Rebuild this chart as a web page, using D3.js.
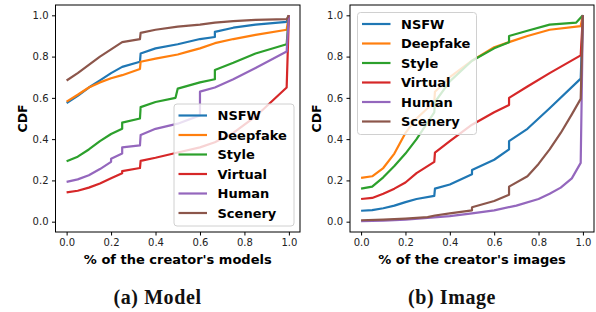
<!DOCTYPE html>
<html>
<head>
<meta charset="utf-8">
<script src="https://cdn.jsdelivr.net/npm/d3@7"></script>
<style>
  body { margin: 0; background: #fff; }
  svg { display: block; }
  .tick text { font-family: "DejaVu Sans", sans-serif; font-size: 10px; fill: #222; }
  .lbl { font-family: "DejaVu Sans", sans-serif; font-weight: bold; fill: #000; }
  .cap { font-family: "Liberation Serif", "DejaVu Serif", serif; font-weight: bold; font-size: 20px; letter-spacing: 0.6px; fill: #111; }
</style>
</head>
<body>
<svg width="596" height="312"></svg>
<script>
var names = ['NSFW', 'Deepfake', 'Style', 'Virtual', 'Human', 'Scenery'];
var colors = ['#1f77b4', '#ff7f0e', '#2ca02c', '#d62728', '#9467bd', '#8c564b'];
var ticks = [0, 0.2, 0.4, 0.6, 0.8, 1.0];

// (a) model share per creator, [x, cdf]
var modelNsfw = [[0,0.575],[0.05,0.61],[0.1,0.65],[0.15,0.685],[0.2,0.72],[0.25,0.75],[0.33,0.775],[0.333,0.815],[0.4,0.84],[0.5,0.86],[0.6,0.885],[0.667,0.895],[0.667,0.92],[0.75,0.94],[0.85,0.955],[0.99,0.968],[1,1]];
var modelDeepfake = [[0,0.582],[0.05,0.615],[0.1,0.65],[0.15,0.675],[0.2,0.695],[0.25,0.71],[0.33,0.74],[0.333,0.775],[0.4,0.79],[0.5,0.81],[0.55,0.825],[0.6,0.84],[0.667,0.865],[0.75,0.885],[0.85,0.905],[0.99,0.93],[1,1]];
var modelStyle = [[0,0.293],[0.05,0.315],[0.1,0.35],[0.15,0.39],[0.2,0.425],[0.25,0.45],[0.25,0.48],[0.33,0.5],[0.333,0.555],[0.4,0.58],[0.49,0.6],[0.5,0.645],[0.6,0.675],[0.667,0.69],[0.667,0.735],[0.75,0.77],[0.85,0.815],[0.99,0.86],[1,1]];
var modelVirtual = [[0,0.142],[0.05,0.15],[0.1,0.165],[0.15,0.185],[0.2,0.21],[0.25,0.235],[0.25,0.245],[0.33,0.26],[0.333,0.295],[0.4,0.31],[0.5,0.335],[0.6,0.36],[0.667,0.385],[0.75,0.43],[0.85,0.51],[0.99,0.65],[1,1]];
var modelHuman = [[0,0.193],[0.05,0.205],[0.1,0.225],[0.15,0.255],[0.2,0.29],[0.2,0.305],[0.25,0.33],[0.25,0.36],[0.33,0.37],[0.333,0.42],[0.4,0.45],[0.5,0.475],[0.6,0.515],[0.6,0.63],[0.667,0.65],[0.75,0.69],[0.85,0.745],[0.99,0.825],[1,1]];
var modelScenery = [[0,0.684],[0.05,0.72],[0.1,0.76],[0.15,0.8],[0.2,0.835],[0.25,0.87],[0.33,0.885],[0.333,0.915],[0.4,0.93],[0.5,0.945],[0.6,0.955],[0.667,0.965],[0.75,0.972],[0.85,0.978],[0.99,0.982],[1,1]];

// (b) image share per creator
var imageNsfw = [[0,0.053],[0.05,0.056],[0.1,0.065],[0.15,0.078],[0.2,0.095],[0.25,0.11],[0.33,0.125],[0.333,0.16],[0.4,0.18],[0.5,0.23],[0.5,0.25],[0.6,0.3],[0.667,0.35],[0.667,0.39],[0.75,0.45],[0.85,0.55],[0.99,0.693],[1,1]];
var imageDeepfake = [[0,0.212],[0.05,0.22],[0.1,0.26],[0.15,0.33],[0.2,0.43],[0.25,0.5],[0.33,0.58],[0.333,0.63],[0.4,0.7],[0.5,0.78],[0.6,0.845],[0.667,0.87],[0.75,0.9],[0.85,0.93],[0.99,0.948],[1,1]];
var imageStyle = [[0,0.16],[0.05,0.17],[0.1,0.215],[0.15,0.27],[0.2,0.33],[0.25,0.4],[0.33,0.53],[0.333,0.58],[0.4,0.68],[0.5,0.78],[0.6,0.84],[0.667,0.87],[0.667,0.9],[0.75,0.925],[0.85,0.955],[0.97,0.965],[1,1]];
var imageVirtual = [[0,0.11],[0.05,0.115],[0.1,0.135],[0.15,0.16],[0.2,0.19],[0.25,0.235],[0.33,0.29],[0.333,0.335],[0.4,0.39],[0.5,0.47],[0.6,0.53],[0.667,0.565],[0.667,0.6],[0.75,0.655],[0.85,0.72],[0.99,0.806],[1,1]];
var imageHuman = [[0,0.003],[0.1,0.005],[0.2,0.01],[0.3,0.018],[0.4,0.027],[0.5,0.04],[0.6,0.055],[0.7,0.078],[0.8,0.11],[0.85,0.135],[0.9,0.165],[0.95,0.21],[0.99,0.285],[1,1]];
var imageScenery = [[0,0.007],[0.1,0.01],[0.2,0.015],[0.3,0.022],[0.333,0.03],[0.4,0.04],[0.5,0.055],[0.5,0.07],[0.6,0.1],[0.667,0.13],[0.667,0.17],[0.75,0.22],[0.8,0.28],[0.85,0.35],[0.9,0.43],[0.95,0.52],[0.99,0.595],[1,1]];

var svg = d3.select('svg');

function panel(o) {
  var x = d3.scaleLinear().domain([-0.05, 1.05]).range([o.left, o.right]),
      y = d3.scaleLinear().domain([-0.05, 1.05]).range([232, 5]);

  var g = svg.append('g');

  g.append('g')
    .attr('transform', 'translate(0,232)')
    .call(d3.axisBottom(x).tickValues(ticks).tickFormat(d3.format('.1f')).tickSize(3.5).tickPadding(3.5))
    .call(function(a){ a.select('.domain').remove(); });
  g.append('g')
    .attr('transform', 'translate(' + o.left + ',0)')
    .call(d3.axisLeft(y).tickValues(ticks).tickFormat(d3.format('.1f')).tickSize(3.5).tickPadding(3.5))
    .call(function(a){ a.select('.domain').remove(); });

  var line = d3.line().x(function(d){ return x(d[0]); }).y(function(d){ return y(d[1]); });

  o.series.forEach(function(s, i){
    g.append('path')
      .attr('d', line(s))
      .attr('fill', 'none')
      .attr('stroke', colors[i])
      .attr('stroke-width', 2.2)
      .attr('stroke-linejoin', 'round');
  });

  // frame
  g.append('rect')
    .attr('x', o.left).attr('y', 5)
    .attr('width', o.right - o.left).attr('height', 227)
    .attr('fill', 'none').attr('stroke', '#000').attr('stroke-width', 1);

  // legend
  var lg = g.append('g').attr('transform', 'translate(' + o.lx + ',' + o.ly + ')');
  lg.append('rect')
    .attr('width', o.lw).attr('height', 122).attr('rx', 3)
    .attr('fill', 'rgba(255,255,255,0.8)').attr('stroke', '#d0d0d0');
  names.forEach(function(n, i){
    var yy = 11.5 + i * 19.5;
    lg.append('line')
      .attr('x1', 4.5).attr('x2', 33).attr('y1', yy).attr('y2', yy)
      .attr('stroke', colors[i]).attr('stroke-width', 2.2);
    lg.append('text')
      .attr('class', 'lbl').attr('x', 43.5).attr('y', yy).attr('dy', '0.36em')
      .style('font-size', '13px').text(n);
  });

  g.append('text').attr('class', 'lbl')
    .attr('transform', 'translate(' + o.ylx + ',118.5) rotate(-90)')
    .attr('text-anchor', 'middle').attr('dy', '0.36em')
    .style('font-size', '12.5px').text('CDF');
  g.append('text').attr('class', 'lbl')
    .attr('x', x(0.5)).attr('y', 259).attr('dy', '0.36em')
    .attr('text-anchor', 'middle').style('font-size', '13px').text(o.xlabel);
  g.append('text').attr('class', 'cap')
    .attr('x', o.capx).attr('y', 297).attr('dy', '0.35em')
    .attr('text-anchor', 'middle').text(o.caption);
}

panel({
  left: 55.5, right: 300,
  series: [modelNsfw, modelDeepfake, modelStyle, modelVirtual, modelHuman, modelScenery],
  lx: 174, ly: 104, lw: 120, ylx: 22,
  xlabel: "% of the creator's models", caption: '(a) Model', capx: 157.5
});
panel({
  left: 350, right: 594,
  series: [imageNsfw, imageDeepfake, imageStyle, imageVirtual, imageHuman, imageScenery],
  lx: 357.5, ly: 12.5, lw: 119, ylx: 316,
  xlabel: "% of the creator's images", caption: '(b) Image', capx: 452
});
</script>
</body>
</html>
